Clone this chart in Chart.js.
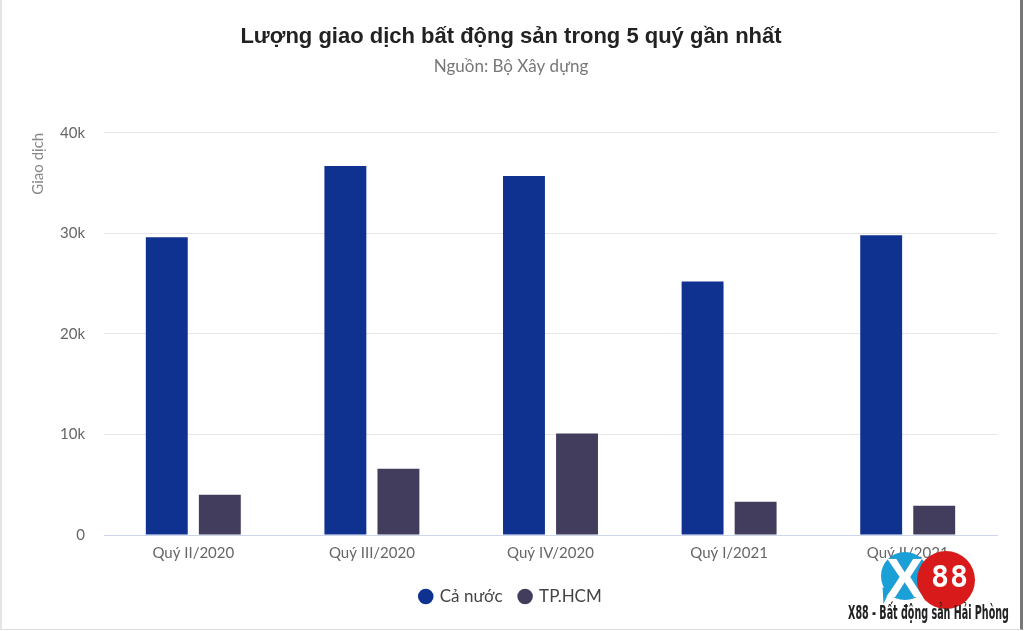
<!DOCTYPE html>
<html>
<head>
<meta charset="utf-8">
<script src="https://cdn.jsdelivr.net/npm/chart.js@4/dist/chart.umd.min.js"></script>
<style>
  html, body { margin: 0; padding: 0; background: #fff; }
  #wrap { position: relative; width: 1024px; height: 631px; overflow: hidden; }
  #frame { position: absolute; left: 0; top: 0; width: 1018px; height: 629px;
           border-left: 2px solid #e4e4e4; border-right: 3px solid #777; border-bottom: 1px solid #ddd; pointer-events: none; }
  .logo { position: absolute; }
  #bubble { left: 881px; top: 552px; width: 48px; height: 48px; border-radius: 50%; background: #1a9fd6; }
  #bubbleTail { left: 879px; top: 588px; width: 0; height: 0; border-left: 8px solid transparent;
                border-top: 15px solid #1a9fd6; transform: rotate(25deg); }
  #redball { left: 917px; top: 551px; width: 58px; height: 58px; border-radius: 50%; background: #d81a1a; }
  #xmark { left: 886px; top: 549px; font: bold 56px "Liberation Sans", Arial, sans-serif; color: #fff;
           line-height: 58px; text-shadow: 0 0 1px #bbb; }
  #eights { left: 931px; top: 561px; font: bold 30px "DejaVu Sans Mono", monospace; color: #fff;
            letter-spacing: 1px; line-height: 32px; }
  #brand { left: 848px; top: 601px;
           font: bold 19px "Liberation Sans Narrow", "DejaVu Sans Condensed", sans-serif; color: #222;
           transform: scaleX(0.56); transform-origin: left top; white-space: nowrap; }
</style>
</head>
<body>
<div id="wrap">
  <canvas id="chart" width="1024" height="631"></canvas>
  <div id="frame"></div>
  <div class="logo" id="bubbleTail"></div>
  <div class="logo" id="bubble"></div>
  <div class="logo" id="redball"></div>
  <div class="logo" id="eights">88</div>
  <div class="logo" id="xmark">X</div>
  <div class="logo" id="brand">X88 - Bất động sản Hải Phòng</div>
</div>
<script>
const quarters = ['Quý II/2020', 'Quý III/2020', 'Quý IV/2020', 'Quý I/2021', 'Quý II/2021'];
const caNuoc = [29600, 36700, 35700, 25200, 29800];
const tpHcm = [4000, 6600, 10100, 3300, 2900];
const yTicks = [0, 10000, 20000, 30000, 40000];

const fontFamily = 'Lato, "Open Sans", sans-serif';

new Chart(document.getElementById('chart').getContext('2d'), {
    type: 'bar',
    data: {
        labels: quarters,
        datasets: [{
            label: 'Cả nước',
            data: caNuoc,
            backgroundColor: '#0f3190'
        }, {
            label: 'TP.HCM',
            data: tpHcm,
            backgroundColor: '#433d5d'
        }]
    },
    options: {
        responsive: false,
        animation: false,
        layout: { padding: { left: 25, right: 27, top: 0, bottom: 16 } },
        datasets: {
            bar: { categoryPercentage: 0.594, barPercentage: 0.79 }
        },
        plugins: {
            title: {
                display: true,
                text: 'Lượng giao dịch bất động sản trong 5 quý gần nhất',
                color: '#222',
                font: { family: '"Liberation Sans", Arial, sans-serif', size: 22, weight: 'bold' },
                padding: { top: 24, bottom: 6 }
            },
            subtitle: {
                display: true,
                text: 'Nguồn: Bộ Xây dựng',
                color: '#777',
                font: { family: fontFamily, size: 17 },
                padding: { top: 0, bottom: 56 }
            },
            legend: {
                position: 'bottom',
                labels: {
                    usePointStyle: true,
                    pointStyle: 'circle',
                    boxWidth: 11,
                    boxHeight: 11,
                    padding: 17,
                    color: '#444',
                    font: { family: fontFamily, size: 17 }
                }
            },
            tooltip: { enabled: false }
        },
        scales: {
            x: {
                grid: { display: false, drawTicks: false },
                border: { color: '#ccd6eb', width: 1 },
                ticks: { color: '#666', padding: 9, font: { family: fontFamily, size: 15 } },
                afterFit: scale => { scale.height = 36; }
            },
            y: {
                min: 0,
                max: 40000,
                afterBuildTicks: axis => { axis.ticks = yTicks.map(v => ({ value: v })); },
                afterFit: scale => { scale.width = 79; },
                grid: { color: '#e6e6e6', drawTicks: false },
                border: { display: false },
                ticks: {
                    color: '#666',
                    padding: 19,
                    font: { family: fontFamily, size: 15 },
                    callback: v => v === 0 ? '0' : (v / 1000) + 'k'
                },
                title: {
                    display: true,
                    text: 'Giao dịch',
                    align: 'end',
                    color: '#888',
                    font: { family: fontFamily, size: 15 },
                    padding: { top: 4, bottom: 4 }
                }
            }
        }
    }
});
</script>
</body>
</html>
